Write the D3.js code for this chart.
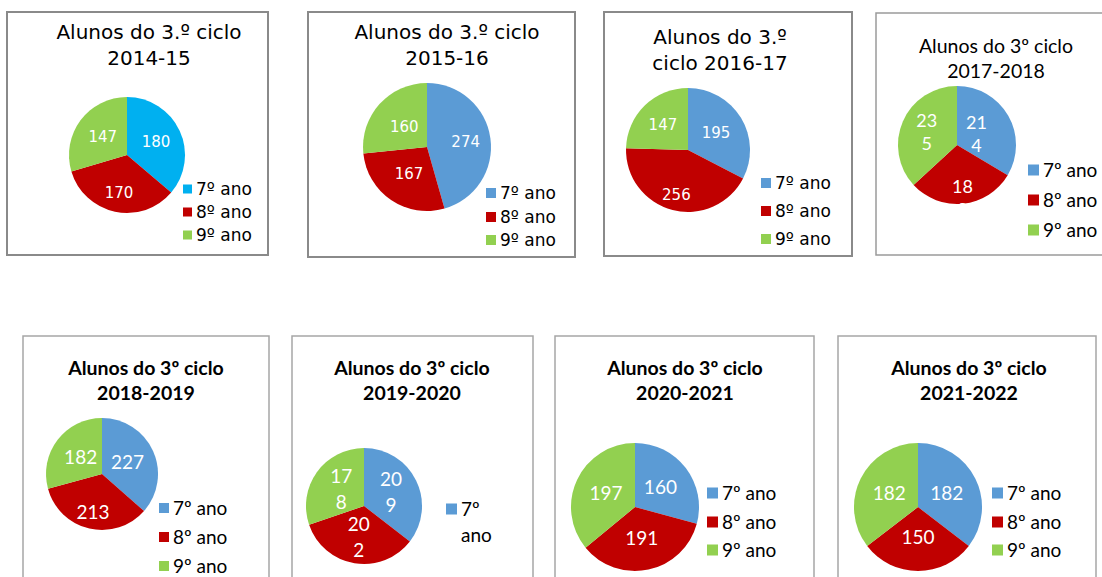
<!DOCTYPE html>
<html lang="pt">
<head>
<meta charset="UTF-8" />
<title>Alunos do 3.º ciclo</title>
<script src="https://d3js.org/d3.v7.min.js"></script>
<style>
  body { margin: 0; background: #fff; }
  svg { display: block; }
</style>
</head>
<body>
<script>
// dados
const categories = ["7º ano", "8º ano", "9º ano"];
const years = ["2014-15", "2015-16", "2016-17", "2017-2018", "2018-2019", "2019-2020", "2020-2021", "2021-2022"];
const alunos2014 = [180, 170, 147];
const alunos2015 = [274, 167, 160];
const alunos2016 = [195, 256, 147];
const alunos2017 = [214, 189, 235];
const alunos2018 = [227, 213, 182];
const alunos2019 = [209, 202, 178];
const alunos2020 = [160, 191, 197];
const alunos2021 = [182, 150, 182];

const width = 1102, height = 577;

const red = "#C00000", green = "#92D050", blue = "#5B9BD5";
const gothic = "'DejaVu Sans', sans-serif";
const calibri = "Lato, 'Noto Sans', sans-serif";

// layout de cada painel
const panels = [
  { values: alunos2014, title: ["Alunos do 3.º ciclo", years[0]], colors: ["#00B0F0", red, green],
    box: [7, 12, 261, 243], border: "#8a8a8a", bw: 2,
    tx: 149, ty: [39, 65], tfont: gothic, tsize: 20, tweight: "normal",
    cx: 127, cy: 155, r: 58, lf: [0.55, 0.67, 0.52], lfont: gothic, lsize: 15,
    gx: 183, gy: [189, 212, 235], gsize: 9, gfont: gothic, gfs: 17 },
  { values: alunos2015, title: ["Alunos do 3.º ciclo", years[1]], colors: [blue, red, green],
    box: [308, 12, 267, 245], border: "#8a8a8a", bw: 2,
    tx: 447, ty: [39, 65], tfont: gothic, tsize: 20, tweight: "normal",
    cx: 427, cy: 147, r: 64, lf: [0.61, 0.5, 0.48], lfont: gothic, lsize: 15,
    gx: 486, gy: [193, 217, 240], gsize: 10, gfont: gothic, gfs: 17 },
  { values: alunos2016, title: ["Alunos do 3.º", "ciclo " + years[2]], colors: [blue, red, green],
    box: [604, 12, 248, 244], border: "#8a8a8a", bw: 2,
    tx: 720, ty: [44, 70], tfont: gothic, tsize: 20, tweight: "normal",
    cx: 688, cy: 150, r: 62, lf: [0.53, 0.75, 0.58], lfont: gothic, lsize: 15,
    gx: 761, gy: [183, 211, 239], gsize: 10, gfont: gothic, gfs: 17 },
  { values: alunos2017, title: ["Alunos do 3º ciclo", years[3]], colors: [blue, red, green],
    box: [876, 13, 240, 242], border: "#9a9a9a", bw: 1.5,
    tx: 996, ty: [53, 78], tfont: calibri, tsize: 19.5, tweight: "normal",
    cx: 957, cy: 145, r: 59, lf: [0.38, 0.9, 0.56], lfont: calibri, lsize: 18, wrap: 23,
    gx: 1028, gy: [170, 200, 230], gsize: 11, gfont: calibri, gfs: 19 },
  { values: alunos2018, title: ["Alunos do 3º ciclo", years[4]], colors: [blue, red, green],
    box: [23, 336, 246, 260], border: "#a6a6a6", bw: 1.5,
    tx: 146, ty: [375, 400], tfont: calibri, tsize: 19.5, tweight: "bold",
    cx: 102, cy: 474, r: 56, lf: [0.5, 0.71, 0.48], lfont: calibri, lsize: 19,
    gx: 159, gy: [508, 537, 566], gsize: 10, gfont: calibri, gfs: 19 },
  { values: alunos2019, title: ["Alunos do 3º ciclo", years[5]], colors: [blue, red, green],
    box: [292, 336, 241, 260], border: "#a6a6a6", bw: 1.5,
    tx: 412, ty: [375, 400], tfont: calibri, tsize: 19.5, tweight: "bold",
    cx: 364, cy: 506, r: 58, lf: [0.52, 0.55, 0.48], lfont: calibri, lsize: 19, wrap: 26,
    gx: 446, gy: [509], gsize: 11, gfont: calibri, gfs: 19, gwrap: 26 },
  { values: alunos2020, title: ["Alunos do 3º ciclo", years[6]], colors: [blue, red, green],
    box: [555, 336, 259, 260], border: "#a6a6a6", bw: 1.5,
    tx: 685, ty: [375, 400], tfont: calibri, tsize: 19.5, tweight: "bold",
    cx: 635, cy: 507, r: 64, lf: [0.5, 0.5, 0.5], lfont: calibri, lsize: 19,
    gx: 707, gy: [493, 522, 550], gsize: 11, gfont: calibri, gfs: 19 },
  { values: alunos2021, title: ["Alunos do 3º ciclo", years[7]], colors: [blue, red, green],
    box: [838, 336, 258, 260], border: "#a6a6a6", bw: 1.5,
    tx: 969, ty: [375, 400], tfont: calibri, tsize: 19.5, tweight: "bold",
    cx: 918, cy: 507, r: 64, lf: [0.5, 0.48, 0.5], lfont: calibri, lsize: 19,
    gx: 992, gy: [493, 522, 550], gsize: 11, gfont: calibri, gfs: 19 }
];

const svg = d3.select("body").append("svg")
  .attr("width", width)
  .attr("height", height);

const pie = d3.pie().sort(null).value(d => d);

panels.forEach(p => {
  const g = svg.append("g");

  // moldura
  g.append("rect")
    .attr("x", p.box[0]).attr("y", p.box[1])
    .attr("width", p.box[2]).attr("height", p.box[3])
    .attr("fill", "#fff")
    .attr("stroke", p.border)
    .attr("stroke-width", p.bw);

  // titulo
  g.selectAll("text.title")
    .data(p.title)
    .enter().append("text")
    .attr("class", "title")
    .attr("x", p.tx)
    .attr("y", (d, i) => p.ty[i])
    .attr("text-anchor", "middle")
    .style("font-family", p.tfont)
    .style("font-size", p.tsize + "px")
    .style("font-weight", p.tweight)
    .style("fill", "#000")
    .text(d => d);

  const arcs = pie(p.values);
  const arc = d3.arc().innerRadius(0).outerRadius(p.r);

  const pg = g.append("g").attr("transform", `translate(${p.cx},${p.cy})`);

  pg.selectAll("path")
    .data(arcs)
    .enter().append("path")
    .attr("d", arc)
    .attr("fill", (d, i) => p.colors[i]);

  // rotulos dos valores
  arcs.forEach((d, i) => {
    const a = (d.startAngle + d.endAngle) / 2;
    const rr = p.r * p.lf[i];
    const x = Math.sin(a) * rr, y = -Math.cos(a) * rr;
    const s = String(d.data);
    const lines = p.wrap ? [s.slice(0, 2), s.slice(2)] : [s];
    const lh = p.wrap || 0;
    const t = pg.append("text")
      .attr("text-anchor", "middle")
      .style("font-family", p.lfont)
      .style("font-size", p.lsize + "px")
      .style("fill", "#fff");
    lines.forEach((l, k) => {
      t.append("tspan")
        .attr("x", x)
        .attr("y", y + (k - (lines.length - 1) / 2) * lh)
        .attr("dy", "0.35em")
        .text(l);
    });
  });

  // legenda (so as entradas visiveis no painel)
  categories.slice(0, p.gy.length).forEach((c, i) => {
    const yy = p.gy[i];
    g.append("rect")
      .attr("x", p.gx)
      .attr("y", yy - p.gsize / 2)
      .attr("width", p.gsize)
      .attr("height", p.gsize)
      .attr("fill", p.colors[i]);
    const t = g.append("text")
      .style("font-family", p.gfont)
      .style("font-size", p.gfs + "px")
      .style("fill", "#000");
    const parts = p.gwrap ? c.split(" ") : [c];
    parts.forEach((l, k) => {
      t.append("tspan")
        .attr("x", p.gx + p.gsize + 4)
        .attr("y", yy + k * (p.gwrap || 0))
        .attr("dy", "0.35em")
        .text(l);
    });
  });
});
</script>
</body>
</html>
